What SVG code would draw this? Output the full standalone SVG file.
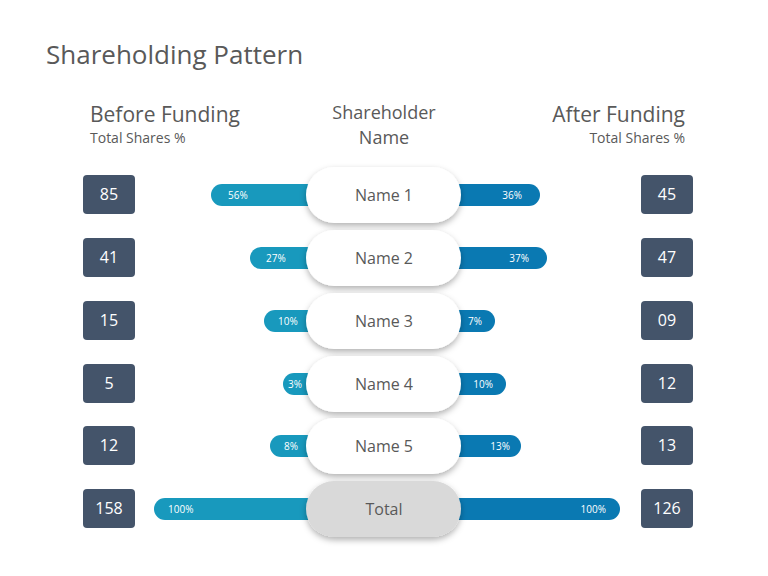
<svg xmlns="http://www.w3.org/2000/svg" width="768" height="576" viewBox="0 0 768 576">
<style>
text{font-family:"Open Sans","Liberation Sans",sans-serif}
.h{font-size:21px;fill:#595959}
.s{font-size:14px;fill:#595959}
.box{fill:#44546a}
.bn{font-size:16px;fill:#fff;text-anchor:middle}
.lb{fill:#1899bd}
.rb{fill:#0a79b2}
.p{font-size:10px;fill:#fff}
.pill{fill:#fff;filter:url(#sh)}
.nm{font-size:16px;fill:#595959;text-anchor:middle}
</style>
<defs>
<filter id="sh" x="-20%" y="-30%" width="140%" height="170%"><feDropShadow dx="0" dy="3" stdDeviation="3" flood-color="#000" flood-opacity="0.3"/></filter>
</defs>
<rect width="768" height="576" fill="#fff"/>
<text x="46" y="64" font-size="26" fill="#595959">Shareholding Pattern</text>
<text class="h" x="90" y="122">Before Funding</text>
<text class="s" x="90" y="143">Total Shares %</text>
<text class="h" x="685" y="122" text-anchor="end">After Funding</text>
<text class="s" x="685" y="143" text-anchor="end">Total Shares %</text>
<text x="384" y="119" font-size="18" fill="#595959" text-anchor="middle">Shareholder</text>
<text x="384" y="144" font-size="18" fill="#595959" text-anchor="middle">Name</text>
<g id="connectors">
<rect class="lb" x="211" y="184" width="120" height="22" rx="11"/><text class="p" x="228" y="199">56%</text>
<rect class="rb" x="440" y="184" width="100" height="22" rx="11"/><text class="p" x="522" y="199" text-anchor="end">36%</text>
<rect class="lb" x="250" y="247" width="80" height="22" rx="11"/><text class="p" x="266" y="262">27%</text>
<rect class="rb" x="440" y="247" width="107" height="22" rx="11"/><text class="p" x="529" y="262" text-anchor="end">37%</text>
<rect class="lb" x="264" y="310" width="66" height="22" rx="11"/><text class="p" x="278" y="325">10%</text>
<rect class="rb" x="440" y="310" width="55" height="22" rx="11"/><text class="p" x="482" y="325" text-anchor="end">7%</text>
<rect class="lb" x="283" y="373" width="47" height="22" rx="11"/><text class="p" x="288" y="388">3%</text>
<rect class="rb" x="440" y="373" width="66" height="22" rx="11"/><text class="p" x="493" y="388" text-anchor="end">10%</text>
<rect class="lb" x="270" y="435" width="60" height="22" rx="11"/><text class="p" x="284" y="450">8%</text>
<rect class="rb" x="440" y="435" width="81" height="22" rx="11"/><text class="p" x="510" y="450" text-anchor="end">13%</text>
<rect class="lb" x="154" y="498" width="176" height="22" rx="11"/><text class="p" x="168" y="513">100%</text>
<rect class="rb" x="440" y="498" width="180" height="22" rx="11"/><text class="p" x="606" y="513" text-anchor="end">100%</text>
</g>
<g id="n1"><rect class="pill" x="306" y="167" width="155" height="56" rx="28"/><text class="nm" x="384" y="201">Name 1</text></g>
<g id="n2"><rect class="pill" x="306" y="230" width="155" height="56" rx="28"/><text class="nm" x="384" y="264">Name 2</text></g>
<g id="n3"><rect class="pill" x="306" y="293" width="155" height="56" rx="28"/><text class="nm" x="384" y="327">Name 3</text></g>
<g id="n4"><rect class="pill" x="306" y="356" width="155" height="56" rx="28"/><text class="nm" x="384" y="390">Name 4</text></g>
<g id="n5"><rect class="pill" x="306" y="418" width="155" height="56" rx="28"/><text class="nm" x="384" y="452">Name 5</text></g>
<g id="total"><rect class="pill" style="fill:#d9d9d9" x="306" y="481" width="155" height="56" rx="28"/><text class="nm" x="384" y="515">Total</text></g>
<g id="before">
<rect class="box" x="83" y="175" width="52" height="39" rx="4"/><text class="bn" x="109" y="200">85</text>
<rect class="box" x="83" y="238" width="52" height="39" rx="4"/><text class="bn" x="109" y="263">41</text>
<rect class="box" x="83" y="301" width="52" height="39" rx="4"/><text class="bn" x="109" y="326">15</text>
<rect class="box" x="83" y="364" width="52" height="39" rx="4"/><text class="bn" x="109" y="389">5</text>
<rect class="box" x="83" y="426" width="52" height="39" rx="4"/><text class="bn" x="109" y="451">12</text>
<rect class="box" x="83" y="489" width="52" height="39" rx="4"/><text class="bn" x="109" y="514">158</text>
</g>
<g id="after">
<rect class="box" x="641" y="175" width="52" height="39" rx="4"/><text class="bn" x="667" y="200">45</text>
<rect class="box" x="641" y="238" width="52" height="39" rx="4"/><text class="bn" x="667" y="263">47</text>
<rect class="box" x="641" y="301" width="52" height="39" rx="4"/><text class="bn" x="667" y="326">09</text>
<rect class="box" x="641" y="364" width="52" height="39" rx="4"/><text class="bn" x="667" y="389">12</text>
<rect class="box" x="641" y="426" width="52" height="39" rx="4"/><text class="bn" x="667" y="451">13</text>
<rect class="box" x="641" y="489" width="52" height="39" rx="4"/><text class="bn" x="667" y="514">126</text>
</g>
</svg>
